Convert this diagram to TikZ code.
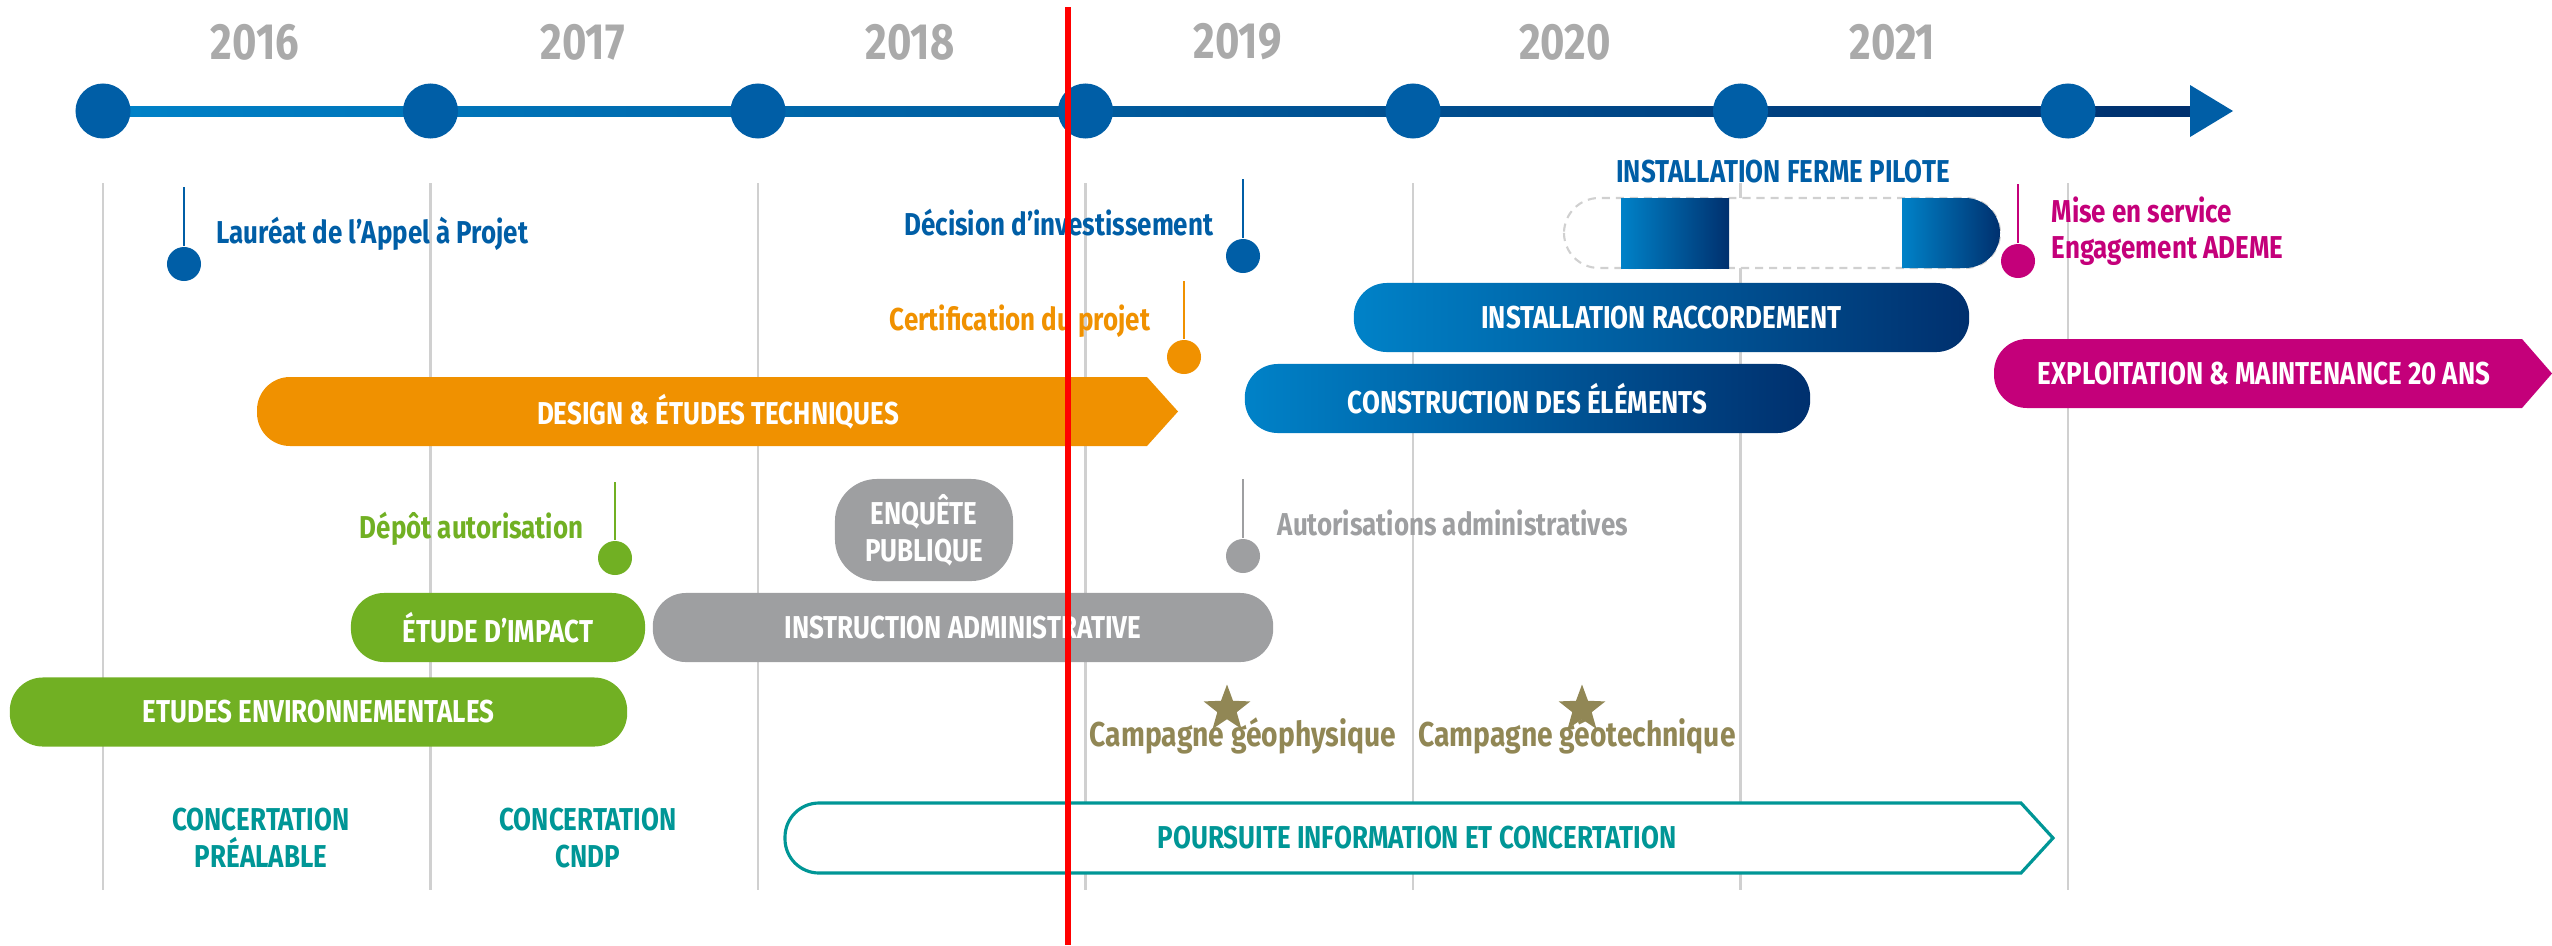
\documentclass[tikz,border=0pt]{standalone}
\usepackage{fontspec}
\setmainfont{Fira Sans}[FakeStretch=0.82]
\usepackage{tikz}
\usetikzlibrary{positioning,shapes.geometric}
\definecolor{TLblue}{RGB}{0,94,166}
\definecolor{TLlight}{RGB}{0,130,200}
\definecolor{TLdark}{RGB}{0,48,110}
\definecolor{TLorange}{RGB}{240,145,0}
\definecolor{TLgreen}{RGB}{113,176,35}
\definecolor{TLgray}{RGB}{158,159,161}
\definecolor{TLmagenta}{RGB}{196,0,122}
\definecolor{TLteal}{RGB}{0,150,150}
\definecolor{TLolive}{RGB}{145,135,85}
\definecolor{TLyear}{RGB}{170,170,170}
\definecolor{TLgrid}{RGB}{208,208,208}
\newcommand{\tlfont}{\fontsize{9}{10.5}\selectfont\bfseries}

\begin{document}
\begin{tikzpicture}[x=0.01cm, y=-0.01cm,
    year/.style={font=\fontsize{14.5}{16}\selectfont\bfseries, text=TLyear},
    tick/.style={circle, fill=TLblue, minimum size=0.55cm, inner sep=0pt},
    dot/.style={circle, minimum size=0.34cm, inner sep=0pt},
    stem/.style={line width=0.7pt},
    gridline/.style={TLgrid, line width=0.6pt},
    lbl/.style={font=\tlfont, inner sep=0pt},
    bar/.style={rounded corners=0.33cm, minimum height=0.69cm, inner sep=0pt, text=white, font=\tlfont},
    gbar/.style={bar, left color=TLlight, right color=TLdark}]
    \useasboundingbox (0,0) rectangle (2552,945);

    \draw[gridline] (103,183)    -- (103,890);
    \draw[gridline] (430.5,183)  -- (430.5,890);
    \draw[gridline] (758,183)    -- (758,890);
    \draw[gridline] (1085.5,183) -- (1085.5,890);
    \draw[gridline] (1413,183)   -- (1413,890);
    \draw[gridline] (1740.5,183) -- (1740.5,890);
    \draw[gridline] (2068,183)   -- (2068,890);

    \node[year] (y2016) at (255,42)    {2016};
    \node[year] (y2017) at (582.5,42)  {2017};
    \node[year] (y2018) at (910,42)    {2018};
    \node[year] (y2019) at (1237.5,42) {2019};
    \node[year] (y2020) at (1565,42)   {2020};
    \node[year] (y2021) at (1892.5,42) {2021};

    \shade[left color=TLlight, right color=TLdark] (103,106) rectangle (2192,116);
    \fill[TLblue] (2190,85) -- (2233,111) -- (2190,137) -- cycle;
    \node[tick] (t0) at (103,111)    {};
    \node[tick] (t1) at (430.5,111)  {};
    \node[tick] (t2) at (758,111)    {};
    \node[tick] (t3) at (1085.5,111) {};
    \node[tick] (t4) at (1413,111)   {};
    \node[tick] (t5) at (1740.5,111) {};
    \node[tick] (t6) at (2068,111)   {};

    \node[dot, fill=TLblue]    (dLaureat)  at (184,264)  {};
    \node[dot, fill=TLblue]    (dDecision) at (1243,256) {};
    \node[dot, fill=TLorange]  (dCertif)   at (1184,357) {};
    \node[dot, fill=TLgreen]   (dDepot)    at (615,558)  {};
    \node[dot, fill=TLgray]    (dAutor)    at (1243,556) {};
    \node[dot, fill=TLmagenta] (dMise)     at (2018,261) {};
    \coordinate (sLaureat)  at (184,187);
    \coordinate (sDecision) at (1243,179);
    \coordinate (sCertif)   at (1184,281);
    \coordinate (sDepot)    at (615,482);
    \coordinate (sAutor)    at (1243,479);
    \coordinate (sMise)     at (2018,184);
    \draw[stem, TLblue]    (sLaureat)  -- (dLaureat);
    \draw[stem, TLblue]    (sDecision) -- (dDecision);
    \draw[stem, TLorange]  (sCertif)   -- (dCertif);
    \draw[stem, TLgreen]   (sDepot)    -- (dDepot);
    \draw[stem, TLgray]    (sAutor)    -- (dAutor);
    \draw[stem, TLmagenta] (sMise)     -- (dMise);

    \node[lbl, text=TLblue, anchor=base west]    (lLaureat)  at (216,243)  {Lauréat de l’Appel à Projet};
    \node[lbl, text=TLblue, anchor=base east]    (lDecision) at (1214,235) {Décision d’investissement};
    \node[lbl, text=TLorange, anchor=base east]  (lCertif)   at (1151,330) {Certification du projet};
    \node[lbl, text=TLgreen, anchor=base east]   (lDepot)    at (584,538)  {Dépôt autorisation};
    \node[lbl, text=TLgray, anchor=base west]    (lAutor)    at (1277,535) {Autorisations administratives};
    \node[lbl, text=TLmagenta, anchor=base west] (lMise)     at (2051,222) {Mise en service};
    \node[lbl, text=TLmagenta, anchor=base west] (lAdeme)    at (2051,258) {Engagement ADEME};
    \node[lbl, text=TLblue, anchor=base]         (lPilote)   at (1783,182) {INSTALLATION FERME PILOTE};

    \draw[TLgrid, line width=0.6pt, dash pattern=on 2.3pt off 1.7pt, fill=white, rounded corners=0.35cm] (1564,198) rectangle (2000,268);
    \shade[left color=TLlight, right color=TLdark] (1621,198) rectangle (1729,268);
    \shade[left color=TLlight, right color=TLdark] (1902,198) [rounded corners=0.35cm] -- (2000,198) -- (2000,268) [sharp corners] -- (1902,268) -- cycle;

    \node[gbar, minimum width=6.15cm] (raccord) at (1661.5,317.5) {INSTALLATION RACCORDEMENT};
    \node[gbar, minimum width=5.65cm] (constr)  at (1527.5,398.5) {CONSTRUCTION DES ÉLÉMENTS};

    \fill[TLorange] (1147,377) -- (1178,411.5) -- (1147,446) [rounded corners=0.33cm] -- (257,446) -- (257,377) [sharp corners] -- cycle;
    \node[lbl, text=white] (design) at (718,411.5) {DESIGN \& ÉTUDES TECHNIQUES};

    \fill[TLmagenta] (2522,339) -- (2552,373.5) -- (2522,408) [rounded corners=0.33cm] -- (1994,408) -- (1994,339) [sharp corners] -- cycle;
    \node[lbl, text=white] (exploit) at (2264,373.5) {EXPLOITATION \& MAINTENANCE 20 ANS};

    \node[bar, fill=TLgray, minimum width=1.78cm, minimum height=1.02cm, rounded corners=0.42cm, align=center] (enquete) at (924,530) {ENQUÊTE\\PUBLIQUE};
    \node[bar, fill=TLgreen, minimum width=2.94cm] (impact)  at (498,627.5) {ÉTUDE D’IMPACT};
    \node[bar, fill=TLgray, minimum width=6.2cm]   (instruc) at (963,627.5) {INSTRUCTION ADMINISTRATIVE};
    \node[bar, fill=TLgreen, minimum width=6.17cm] (envir)   at (318.5,712) {ETUDES ENVIRONNEMENTALES};

    \node[star, star points=5, star point ratio=2.4, fill=TLolive, minimum size=0.49cm, inner sep=0pt] (sGeophys) at (1227,709) {};
    \node[star, star points=5, star point ratio=2.4, fill=TLolive, minimum size=0.49cm, inner sep=0pt] (sGeotech) at (1582,709) {};
    \node[lbl, font=\fontsize{9.8}{11}\selectfont\bfseries, text=TLolive, anchor=base] (lGeophys) at (1243,746) {Campagne géophysique};
    \node[lbl, font=\fontsize{9.8}{11}\selectfont\bfseries, text=TLolive, anchor=base] (lGeotech) at (1577,746) {Campagne géotechnique};

    \node[lbl, text=TLteal, align=center] (cPrealable) at (261,838) {CONCERTATION\\PRÉALABLE};
    \node[lbl, text=TLteal, align=center] (cCndp)      at (588,838) {CONCERTATION\\CNDP};
    \draw[TLteal, line width=0.9pt, fill=white] (2021,803) -- (2053,838) -- (2021,873) [rounded corners=0.34cm] -- (785,873) -- (785,803) [sharp corners] -- cycle;
    \node[lbl, text=TLteal] (poursuite) at (1417,838) {POURSUITE INFORMATION ET CONCERTATION};

    \coordinate (nowT) at (1068,7);
    \coordinate (nowB) at (1068,945);
    \draw[red, line width=1.6pt] (nowT) -- (nowB);
\end{tikzpicture}
\end{document}
